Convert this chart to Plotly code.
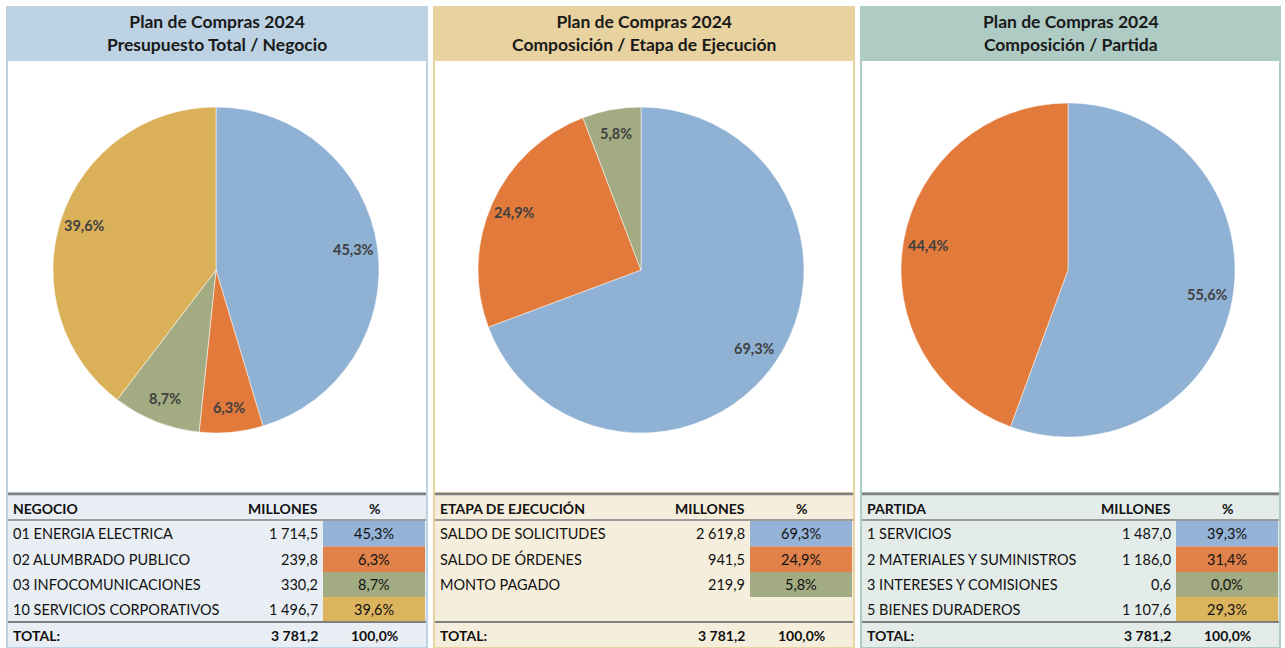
import math
import plotly.graph_objects as go

W, H = 1285, 648

# ---------------- data ----------------
title_line1 = "Plan de Compras 2024"
titles = ["Presupuesto Total / Negocio", "Composición / Etapa de Ejecución", "Composición / Partida"]

neg_labels = ["01 ENERGIA ELECTRICA", "02 ALUMBRADO PUBLICO", "03 INFOCOMUNICACIONES", "10 SERVICIOS CORPORATIVOS"]
neg_millones = ["1 714,5", "239,8", "330,2", "1 496,7"]
neg_pct = [45.3, 6.3, 8.7, 39.6]

eta_labels = ["SALDO DE SOLICITUDES", "SALDO DE ÓRDENES", "MONTO PAGADO"]
eta_millones = ["2 619,8", "941,5", "219,9"]
eta_pct = [69.3, 24.9, 5.8]

par_labels = ["1 SERVICIOS", "2 MATERIALES Y SUMINISTROS", "3 INTERESES Y COMISIONES", "5 BIENES DURADEROS"]
par_millones = ["1 487,0", "1 186,0", "0,6", "1 107,6"]
par_pct = [39.3, 31.4, 0.0, 29.3]
par_pie_pct = [55.6, 44.4]  # values shown in the third pie

total_millones = "3 781,2"
total_pct = "100,0%"
table_heads = ["NEGOCIO", "ETAPA DE EJECUCIÓN", "PARTIDA"]

# ---------------- style ----------------
pie_colors = ["#8FB1D3", "#E27A3C", "#A3AB83", "#DAB159"]
cell_colors = ["#95B3D7", "#E0814A", "#A2AB82", "#DDB45E"]
head_colors = ["#BDD3E4", "#E8D29F", "#AECBC4"]
table_bg = ["#E8EEF4", "#F6EEDD", "#E4ECEA"]
FONT = "Lato"


def fmt(v):
    return f"{v:.1f}%".replace(".", ",")


def px(x):
    return x / W


def py(y):
    return 1 - y / H


panels = [(7, 427), (434, 854), (861, 1280)]
pie_boxes = [(53, 379, 107, 433), (478, 804, 107, 433), (901, 1235, 103, 437)]
pie_data = [neg_pct, eta_pct, par_pie_pct]
tables = [(neg_labels, neg_millones, neg_pct),
          (eta_labels, eta_millones, eta_pct),
          (par_labels, par_millones, par_pct)]

fig = go.Figure()
shapes = []
annotations = []

for i, (x0, x1) in enumerate(panels):
    # pie
    vals = pie_data[i]
    bx0, bx1, by0, by1 = pie_boxes[i]
    fig.add_trace(go.Pie(
        values=vals,
        textinfo="none",
        marker=dict(colors=pie_colors[:len(vals)], line=dict(color="rgba(255,255,255,0.5)", width=1)),
        sort=False,
        direction="clockwise",
        rotation=0,
        hoverinfo="none",
        showlegend=False,
        domain=dict(x=[px(bx0), px(bx1)], y=[py(by1), py(by0)]),
    ))
    # data labels placed inside each slice, near the rim
    cx, cy, r = (bx0 + bx1) / 2, (by0 + by1) / 2, (bx1 - bx0) / 2
    tot = sum(vals)
    cum = 0.0
    for v in vals:
        mid = (cum + v / 2) / tot * 2 * math.pi
        cum += v
        lx = cx + 0.85 * r * math.sin(mid)
        ly = cy - 0.85 * r * math.cos(mid)
        annotations.append(dict(x=px(lx), y=py(ly), xref="paper", yref="paper", text=f"<b>{fmt(v)}</b>",
                                showarrow=False, font=dict(family=FONT, size=14.5, color="#404040"),
                                xanchor="center", yanchor="middle"))

    # panel outer border / pie area
    shapes.append(dict(type="rect", xref="paper", yref="paper", x0=px(x0), x1=px(x1), y0=py(493), y1=py(60),
                       fillcolor="white", line=dict(color=head_colors[i], width=2), layer="below"))
    # header
    shapes.append(dict(type="rect", xref="paper", yref="paper", x0=px(x0 - 1), x1=px(x1 + 1), y0=py(60), y1=py(6),
                       fillcolor=head_colors[i], line=dict(width=0), layer="below"))
    annotations.append(dict(x=px((x0 + x1) / 2), y=py(33.5), xref="paper", yref="paper",
                            text=f"<b>{title_line1}</b><br><b>{titles[i]}</b>", showarrow=False,
                            font=dict(family=FONT, size=17.5, color="#1a1a1a"), align="center",
                            xanchor="center", yanchor="middle"))
    # table background
    shapes.append(dict(type="rect", xref="paper", yref="paper", x0=px(x0), x1=px(x1), y0=py(648), y1=py(493),
                       fillcolor=table_bg[i], line=dict(color=head_colors[i], width=2), layer="below"))
    # gray lines
    for yy, wd in [(494, 2.5), (520, 1.5), (622, 2)]:
        shapes.append(dict(type="line", xref="paper", yref="paper", x0=px(x0 + 1), x1=px(x1 - 1), y0=py(yy), y1=py(yy),
                           line=dict(color="#808080", width=wd)))

    labels, mill, pct = tables[i]
    pc0, pc1 = x1 - 104, x1 - 2
    mill_x = x1 - 107
    lab_x = x0 + 4
    hfont = dict(family=FONT, size=14, color="#111111", weight="bold")
    rfont = dict(family=FONT, size=14.5, color="#111111")
    annotations.append(dict(x=px(lab_x), y=py(508), xref="paper", yref="paper", text=table_heads[i],
                            showarrow=False, font=hfont, xanchor="left", yanchor="middle"))
    annotations.append(dict(x=px(mill_x), y=py(508), xref="paper", yref="paper", text="MILLONES",
                            showarrow=False, font=hfont, xanchor="right", yanchor="middle"))
    annotations.append(dict(x=px((pc0 + pc1) / 2), y=py(508), xref="paper", yref="paper", text="%",
                            showarrow=False, font=hfont, xanchor="center", yanchor="middle"))
    row_edges = [521, 546.5, 572, 597, 622]
    for rr in range(len(labels)):
        ya, yb = row_edges[rr], row_edges[rr + 1]
        yc = (ya + yb) / 2
        shapes.append(dict(type="rect", xref="paper", yref="paper", x0=px(pc0), x1=px(pc1), y0=py(yb), y1=py(ya),
                           fillcolor=cell_colors[rr], line=dict(width=0), layer="below"))
        annotations.append(dict(x=px(lab_x), y=py(yc), xref="paper", yref="paper", text=labels[rr],
                                showarrow=False, font=rfont, xanchor="left", yanchor="middle"))
        annotations.append(dict(x=px(mill_x), y=py(yc), xref="paper", yref="paper", text=mill[rr],
                                showarrow=False, font=rfont, xanchor="right", yanchor="middle"))
        annotations.append(dict(x=px((pc0 + pc1) / 2), y=py(yc), xref="paper", yref="paper", text=fmt(pct[rr]),
                                showarrow=False, font=rfont, xanchor="center", yanchor="middle"))
    annotations.append(dict(x=px(lab_x), y=py(635), xref="paper", yref="paper", text="TOTAL:",
                            showarrow=False, font=hfont, xanchor="left", yanchor="middle"))
    annotations.append(dict(x=px(mill_x), y=py(635), xref="paper", yref="paper", text=total_millones,
                            showarrow=False, font=hfont, xanchor="right", yanchor="middle"))
    annotations.append(dict(x=px((pc0 + pc1) / 2), y=py(635), xref="paper", yref="paper", text=total_pct,
                            showarrow=False, font=hfont, xanchor="center", yanchor="middle"))

fig.update_layout(
    width=W, height=H,
    margin=dict(l=0, r=0, t=0, b=0),
    paper_bgcolor="white", plot_bgcolor="white",
    shapes=shapes, annotations=annotations,
    font=dict(family=FONT),
)
fig.write_html("out.html", config={"displayModeBar": False},
               post_script="document.body.style.margin='0px';document.body.style.overflow='hidden';")
